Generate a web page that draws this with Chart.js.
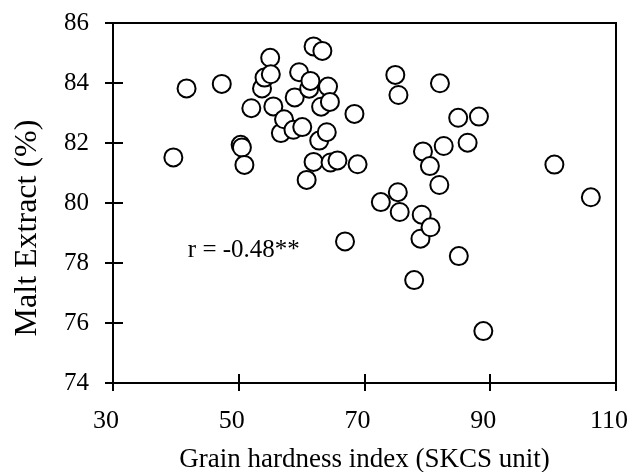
<!DOCTYPE html>
<html>
<head>
<meta charset="utf-8">
<script src="https://cdn.jsdelivr.net/npm/chart.js@4/dist/chart.umd.min.js"></script>
<style>
  html, body { margin: 0; padding: 0; background: #fff; }
  #wrap { width: 629px; height: 472px; }
</style>
</head>
<body>
<div id="wrap"><canvas id="maltChart"></canvas></div>
<script>
// Grain hardness (SKCS) against malt extract
const hardness = [
    39.6, 41.7, 47.3, 50.3, 50.5, 50.9, 52.0, 53.7, 54.1, 55.0,
    55.1, 55.5, 56.7, 57.2, 58.7, 58.9, 59.6, 60.1, 60.8, 61.2,
    61.4, 61.9, 61.9, 62.8, 63.1, 63.3, 64.0, 64.2, 64.5, 64.6,
    65.7, 66.9, 68.4, 68.9, 72.6, 74.9, 75.3, 75.4, 75.6, 77.9,
    78.9, 79.1, 79.3, 80.4, 80.5, 81.9, 82.0, 82.6, 84.9, 85.0,
    86.4, 88.2, 88.9, 100.2, 106.0
];
const maltExtract = [
    81.52, 83.82, 83.97, 81.94, 81.85, 81.27, 83.16, 83.82, 84.18, 84.84,
    84.29, 83.22, 82.33, 82.79, 82.44, 83.52, 84.36, 82.53, 80.77, 83.81,
    84.07, 85.22, 81.37, 82.08, 83.21, 85.07, 82.36, 83.88, 83.37, 81.35,
    81.42, 78.72, 82.97, 81.29, 80.03, 84.27, 80.36, 83.60, 79.70, 77.43,
    78.81, 79.61, 81.72, 81.23, 79.19, 80.60, 83.99, 81.90, 82.84, 78.23,
    82.01, 82.88, 75.73, 81.28, 80.19
];
const xTickValues = [30, 50, 70, 90, 110];
const yTickValues = [74, 76, 78, 80, 82, 84, 86];
const corrLabel = 'r = -0.48**';
const xTitle = 'Grain hardness index (SKCS unit)';
const yTitle = 'Malt Extract (%)';

const serif = '"Liberation Serif", "Times New Roman", serif';

// Box edges, ticks that cross the axes, the r label and the y title
const frameAndLabels = {
    id: 'frameAndLabels',
    afterDraw(chart) {
        const { ctx, chartArea: area, scales: { x, y } } = chart;
        ctx.save();
        ctx.strokeStyle = '#000';
        ctx.lineWidth = 2;
        ctx.lineCap = 'square';
        ctx.beginPath();
        ctx.moveTo(area.left, area.top);
        ctx.lineTo(area.right, area.top);
        ctx.lineTo(area.right, area.bottom);
        ctx.stroke();

        ctx.lineCap = 'butt';
        ctx.beginPath();
        xTickValues.forEach(v => {
            const px = Math.round(x.getPixelForValue(v));
            ctx.moveTo(px, area.bottom - 9);
            ctx.lineTo(px, area.bottom + 8);
        });
        yTickValues.forEach(v => {
            const py = Math.round(y.getPixelForValue(v));
            ctx.moveTo(area.left - 8, py);
            ctx.lineTo(area.left + 10, py);
        });
        ctx.stroke();

        ctx.fillStyle = '#000';
        ctx.font = '25px ' + serif;
        ctx.textAlign = 'left';
        ctx.textBaseline = 'alphabetic';
        ctx.fillText(corrLabel, x.getPixelForValue(41.9), y.getPixelForValue(78.2));

        ctx.translate(28, 228);
        ctx.rotate(-Math.PI / 2);
        ctx.font = '32px ' + serif;
        ctx.textAlign = 'center';
        ctx.textBaseline = 'middle';
        ctx.fillText(yTitle, 0, 0);
        ctx.restore();
    }
};

const ctx = document.getElementById('maltChart').getContext('2d');
new Chart(ctx, {
    type: 'scatter',
    data: {
        datasets: [{
            data: hardness.map((h, i) => ({ x: h, y: maltExtract[i] })),
            pointStyle: 'circle',
            pointRadius: 9,
            pointBorderWidth: 2,
            pointBorderColor: '#000',
            pointBackgroundColor: '#fff'
        }]
    },
    options: {
        responsive: true,
        maintainAspectRatio: false,
        animation: false,
        layout: { padding: { left: 0, right: 13, top: 23, bottom: 0 } },
        plugins: {
            legend: { display: false },
            tooltip: { enabled: false }
        },
        scales: {
            x: {
                type: 'linear',
                min: 30,
                max: 110,
                afterBuildTicks: scale => { scale.ticks = xTickValues.map(v => ({ value: v })); },
                afterFit: scale => { scale.height = 89; scale.paddingLeft = 0; scale.paddingRight = 0; },
                grid: { display: false, drawTicks: false },
                border: { display: true, color: '#000', width: 2 },
                ticks: {
                    color: '#000',
                    font: { family: serif, size: 26 },
                    padding: 23,
                    labelOffset: -7,
                    maxRotation: 0
                },
                title: {
                    display: true,
                    text: xTitle,
                    color: '#000',
                    font: { family: serif, size: 27 },
                    padding: { top: 0, bottom: -4 }
                }
            },
            y: {
                type: 'linear',
                min: 74,
                max: 86,
                afterBuildTicks: scale => { scale.ticks = yTickValues.map(v => ({ value: v })); },
                afterFit: scale => { scale.width = 113; scale.paddingTop = 0; scale.paddingBottom = 0; },
                grid: { display: false, drawTicks: false },
                border: { display: true, color: '#000', width: 2 },
                ticks: {
                    color: '#000',
                    font: { family: serif, size: 25 },
                    padding: 24
                }
            }
        }
    },
    plugins: [frameAndLabels]
});
</script>
</body>
</html>
